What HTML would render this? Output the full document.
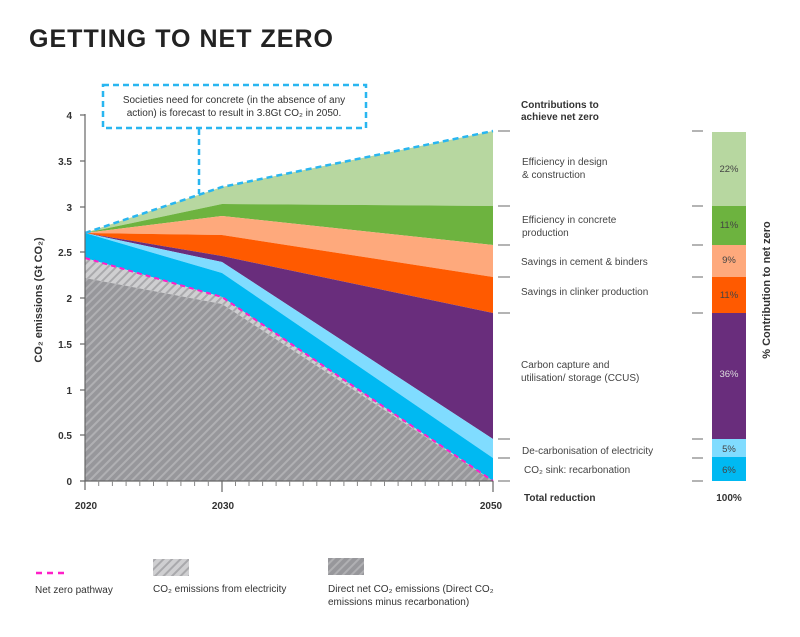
<!DOCTYPE html>
<html><head><meta charset="utf-8"><style>
body{margin:0;background:#fff;}
svg text{font-family:"Liberation Sans",sans-serif;}
</style></head><body>
<svg width="800" height="632" viewBox="0 0 800 632" xmlns="http://www.w3.org/2000/svg" fill="#333">
<defs>
<pattern id="hl" width="6" height="6" patternUnits="userSpaceOnUse" patternTransform="rotate(45)">
<rect width="6" height="6" fill="#cfcfd1"/><rect width="2" height="6" fill="#a9a9ac"/></pattern>
<pattern id="hd" width="6" height="6" patternUnits="userSpaceOnUse" patternTransform="rotate(45)">
<rect width="6" height="6" fill="#97979b"/><rect width="2" height="6" fill="#b0b0b3"/></pattern>
</defs>
<text x="29" y="47" font-size="25" font-weight="bold" style="fill:#222" textLength="304">GETTING TO NET ZERO</text>

<polygon points="85,233 222,187 493,131 493,206 222,204" fill="#b7d7a0"/>
<polygon points="85,233 222,204 493,206 493,245 222,216" fill="#6db33f"/>
<polygon points="85,233 222,216 493,245 493,277 222,235" fill="#fea97c"/>
<polygon points="85,233 222,235 493,277 493,313 222,256" fill="#ff5a00"/>
<polygon points="85,233 222,256 493,313 493,439 222,262" fill="#692d7c"/>
<polygon points="85,233 222,262 493,439 493,458 222,273" fill="#80dcff"/>
<polygon points="85,233 222,273 493,458 493,481 222,297 85,258" fill="#00b9f2"/>
<polygon points="85,258 222,297 493,481 222,304 85,278" fill="url(#hl)"/>
<polygon points="85,278 222,304 493,481 85,481" fill="url(#hd)"/>
<polyline points="85,258 222,297 493,481" fill="none" stroke="#ff1fc8" stroke-width="2" stroke-dasharray="5,4"/>
<polyline points="85,233 222,187 493,131" fill="none" stroke="#29b6f0" stroke-width="2.5" stroke-dasharray="6,4"/>

<rect x="103" y="85" width="263" height="43" fill="none" stroke="#29b6f0" stroke-width="2.5" stroke-dasharray="6,4"/>
<polyline points="199,129 199,194" fill="none" stroke="#29b6f0" stroke-width="2.5" stroke-dasharray="6,4"/>
<text x="234" y="103" font-size="10" text-anchor="middle">Societies need for concrete (in the absence of any</text>
<text x="234" y="116" font-size="10" text-anchor="middle">action) is forecast to result in 3.8Gt CO₂ in 2050.</text>

<g stroke="#666" stroke-width="1.2">
<line x1="85" y1="114" x2="85" y2="490"/>
<line x1="80" y1="481" x2="493" y2="481"/>
<line x1="80" y1="115" x2="85" y2="115"/><line x1="80" y1="161" x2="85" y2="161"/>
<line x1="80" y1="207" x2="85" y2="207"/><line x1="80" y1="252" x2="85" y2="252"/>
<line x1="80" y1="298" x2="85" y2="298"/><line x1="80" y1="344" x2="85" y2="344"/>
<line x1="80" y1="390" x2="85" y2="390"/><line x1="80" y1="435" x2="85" y2="435"/>
<line x1="222" y1="481" x2="222" y2="492"/><line x1="493" y1="481" x2="493" y2="492"/>
</g>
<g stroke="#888" stroke-width="1">
<path d="M98.7 481v5M112.4 481v5M126.1 481v5M139.8 481v5M153.5 481v5M167.2 481v5M180.9 481v5M194.6 481v5M208.3 481v5M235.5 481v5M249 481v5M262.6 481v5M276.1 481v5M289.7 481v5M303.2 481v5M316.8 481v5M330.3 481v5M343.9 481v5M357.4 481v5M371 481v5M384.5 481v5M398.1 481v5M411.6 481v5M425.2 481v5M438.7 481v5M452.3 481v5M465.8 481v5M479.4 481v5"/>
</g>
<g font-size="10" text-anchor="end" font-weight="bold">
<text x="72" y="119">4</text><text x="72" y="165">3.5</text><text x="72" y="211">3</text>
<text x="72" y="256">2.5</text><text x="72" y="302">2</text><text x="72" y="348">1.5</text>
<text x="72" y="394">1</text><text x="72" y="439">0.5</text><text x="72" y="485">0</text>
</g>
<g font-size="10" text-anchor="middle" font-weight="bold">
<text x="86" y="509">2020</text><text x="223" y="509">2030</text><text x="491" y="509">2050</text>
</g>
<text transform="translate(42,300) rotate(-90)" font-size="11" font-weight="bold" text-anchor="middle">CO₂ emissions (Gt CO₂)</text>

<g stroke="#888" stroke-width="1.2">
<path d="M498 131h12M498 206h12M498 245h12M498 277h12M498 313h12M498 439h12M498 458h12M498 481h12"/>
<path d="M692 131h11M692 206h11M692 245h11M692 277h11M692 313h11M692 439h11M692 458h11M692 481h11"/>
</g>
<text x="521" y="108" font-size="10" font-weight="bold">Contributions to</text>
<text x="521" y="120" font-size="10" font-weight="bold">achieve net zero</text>
<g font-size="10" fill="#444">
<text x="522" y="165">Efficiency in design</text><text x="522" y="178">&amp; construction</text>
<text x="522" y="223">Efficiency in concrete</text><text x="522" y="236">production</text>
<text x="521" y="265">Savings in cement &amp; binders</text>
<text x="521" y="295">Savings in clinker production</text>
<text x="521" y="368">Carbon capture and</text><text x="521" y="381">utilisation/ storage (CCUS)</text>
<text x="522" y="454">De-carbonisation of electricity</text>
<text x="524" y="473">CO₂ sink: recarbonation</text>
</g>
<text x="524" y="501" font-size="10" font-weight="bold">Total reduction</text>

<rect x="712" y="132" width="34" height="74" fill="#b7d7a0"/>
<rect x="712" y="206" width="34" height="39" fill="#6db33f"/>
<rect x="712" y="245" width="34" height="32" fill="#fea97c"/>
<rect x="712" y="277" width="34" height="36" fill="#ff5a00"/>
<rect x="712" y="313" width="34" height="126" fill="#692d7c"/>
<rect x="712" y="439" width="34" height="18" fill="#80dcff"/>
<rect x="712" y="457" width="34" height="24" fill="#00b9f2"/>
<g font-size="9.5" text-anchor="middle" fill="#444">
<text x="729" y="172">22%</text><text x="729" y="228">11%</text><text x="729" y="263">9%</text>
<text x="729" y="298">11%</text><text x="729" y="377" style="fill:#ddd">36%</text>
<text x="729" y="452">5%</text><text x="729" y="473">6%</text>
</g>
<text x="729" y="501" font-size="10" font-weight="bold" text-anchor="middle">100%</text>
<text transform="translate(770,290) rotate(-90)" font-size="11" font-weight="bold" text-anchor="middle">%  Contribution to net zero</text>

<line x1="36" y1="573" x2="67" y2="573" stroke="#ff1fc8" stroke-width="2.5" stroke-dasharray="6,5"/>
<text x="35" y="593" font-size="10">Net zero pathway</text>
<rect x="153" y="559" width="36" height="17" fill="url(#hl)"/>
<text x="153" y="592" font-size="10">CO₂ emissions from electricity</text>
<rect x="328" y="558" width="36" height="17" fill="url(#hd)"/>
<text x="328" y="592" font-size="10">Direct net CO₂ emissions (Direct CO₂</text>
<text x="328" y="605" font-size="10">emissions minus recarbonation)</text>
</svg>
</body></html>
